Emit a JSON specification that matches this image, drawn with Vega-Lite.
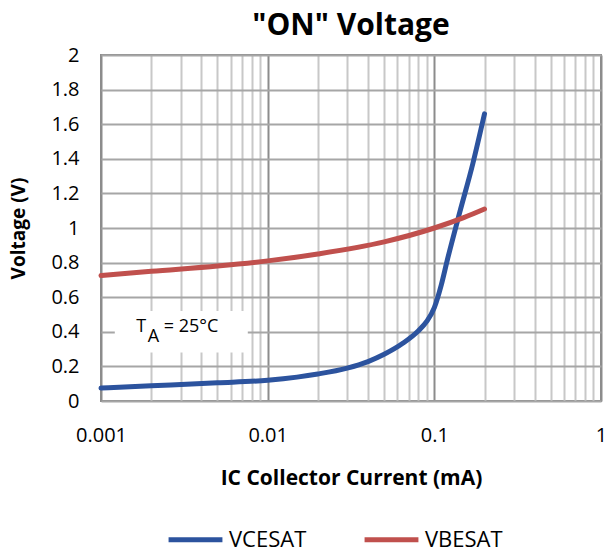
{
  "$schema": "https://vega.github.io/schema/vega-lite/v6.json",
  "width": 500,
  "height": 346,
  "autosize": {"type": "none"},
  "padding": {"left": 101, "top": 55, "right": 6, "bottom": 148},
  "background": "white",
  "config": {
    "font": "Open Sans",
    "view": {"stroke": "#8c8c8c", "strokeWidth": 2}
  },
  "title": {
    "text": "\"ON\"  Voltage",
    "fontSize": 30,
    "fontWeight": "bold",
    "font": "Open Sans",
    "color": "#000000",
    "anchor": "middle",
    "offset": 4
  },
  "datasets": {
    "curves": [
      {"I": 0.001, "V": 0.075, "series": "VCESAT"},
      {"I": 0.002, "V": 0.088, "series": "VCESAT"},
      {"I": 0.005, "V": 0.105, "series": "VCESAT"},
      {"I": 0.01, "V": 0.12, "series": "VCESAT"},
      {"I": 0.015, "V": 0.138, "series": "VCESAT"},
      {"I": 0.02, "V": 0.156, "series": "VCESAT"},
      {"I": 0.03, "V": 0.19, "series": "VCESAT"},
      {"I": 0.04, "V": 0.228, "series": "VCESAT"},
      {"I": 0.05, "V": 0.27, "series": "VCESAT"},
      {"I": 0.065, "V": 0.335, "series": "VCESAT"},
      {"I": 0.08, "V": 0.405, "series": "VCESAT"},
      {"I": 0.09, "V": 0.46, "series": "VCESAT"},
      {"I": 0.1, "V": 0.54, "series": "VCESAT"},
      {"I": 0.11, "V": 0.67, "series": "VCESAT"},
      {"I": 0.12, "V": 0.82, "series": "VCESAT"},
      {"I": 0.142, "V": 1.09, "series": "VCESAT"},
      {"I": 0.17, "V": 1.37, "series": "VCESAT"},
      {"I": 0.2, "V": 1.66, "series": "VCESAT"},
      {"I": 0.001, "V": 0.725, "series": "VBESAT"},
      {"I": 0.002, "V": 0.75, "series": "VBESAT"},
      {"I": 0.005, "V": 0.78, "series": "VBESAT"},
      {"I": 0.01, "V": 0.81, "series": "VBESAT"},
      {"I": 0.02, "V": 0.85, "series": "VBESAT"},
      {"I": 0.05, "V": 0.92, "series": "VBESAT"},
      {"I": 0.1, "V": 1.0, "series": "VBESAT"},
      {"I": 0.15, "V": 1.06, "series": "VBESAT"},
      {"I": 0.2, "V": 1.11, "series": "VBESAT"}
    ],
    "box": [{"I": 0.00121, "I2": 0.0076, "V": 0.28, "V2": 0.52}],
    "notes": [
      {"I": 0.00163, "V": 0.43, "t": "T"},
      {"I": 0.00191, "V": 0.37, "t": "A"},
      {"I": 0.00238, "V": 0.43, "t": "= 25°C"}
    ]
  },
  "encoding": {
    "x": {
      "field": "I",
      "type": "quantitative",
      "scale": {"type": "log", "domain": [0.001, 1], "nice": false},
      "axis": {
        "title": "IC Collector Current (mA)",
        "titleFontSize": 21,
        "titleFontWeight": "bold",
        "titleColor": "#000000",
        "titlePadding": 22,
        "values": [0.001, 0.002, 0.003, 0.004, 0.005, 0.006, 0.007, 0.008, 0.009, 0.01, 0.02, 0.03, 0.04, 0.05, 0.06, 0.07, 0.08, 0.09, 0.1, 0.2, 0.3, 0.4, 0.5, 0.6, 0.7, 0.8, 0.9, 1],
        "format": "~g",
        "labelExpr": "indexof([0.001, 0.01, 0.1, 1], datum.value) >= 0 ? datum.label : ''",
        "labelFontSize": 20,
        "labelColor": "#000000",
        "labelPadding": 24,
        "labelFlush": false,
        "labelOverlap": false,
        "ticks": false,
        "domain": false,
        "grid": true,
        "gridWidth": 2,
        "gridColor": {
          "condition": {"test": "indexof([0.001, 0.01, 0.1, 1], datum.value) >= 0", "value": "#8c8c8c"},
          "value": "#c8c8c8"
        }
      }
    },
    "y": {
      "field": "V",
      "type": "quantitative",
      "scale": {"domain": [0, 2], "nice": false},
      "axis": {
        "title": "Voltage (V)",
        "titleFontSize": 19,
        "titleFontWeight": "bold",
        "titleColor": "#000000",
        "titlePadding": 22,
        "values": [0, 0.2, 0.4, 0.6, 0.8, 1, 1.2, 1.4, 1.6, 1.8, 2],
        "format": "~g",
        "labelFontSize": 20,
        "labelColor": "#000000",
        "labelPadding": 22,
        "labelOverlap": false,
        "ticks": false,
        "domain": false,
        "grid": true,
        "gridColor": "#a6a6a6",
        "gridWidth": 2
      }
    }
  },
  "layer": [
    {
      "data": {"name": "curves"},
      "mark": {"type": "line", "strokeWidth": 5, "interpolate": "monotone", "strokeCap": "round"},
      "encoding": {
        "color": {
          "field": "series",
          "type": "nominal",
          "scale": {"domain": ["VCESAT", "VBESAT"], "range": ["#2C539E", "#C0504D"]},
          "legend": {
            "orient": "none",
            "legendX": 65,
            "legendY": 455,
            "direction": "horizontal",
            "title": null,
            "symbolType": "stroke",
            "symbolStrokeWidth": 5,
            "symbolSize": 2900,
            "labelFontSize": 22,
            "labelOffset": 4,
            "labelColor": "#000000",
            "columnPadding": 47
          }
        }
      }
    },
    {
      "data": {"name": "box"},
      "mark": {"type": "rect", "color": "white"},
      "encoding": {
        "x2": {"field": "I2"},
        "y2": {"field": "V2"}
      }
    },
    {
      "data": {"name": "notes"},
      "mark": {"type": "text", "align": "left", "baseline": "middle", "fontSize": 18, "color": "#000000"},
      "encoding": {
        "text": {"field": "t"}
      }
    }
  ]
}
